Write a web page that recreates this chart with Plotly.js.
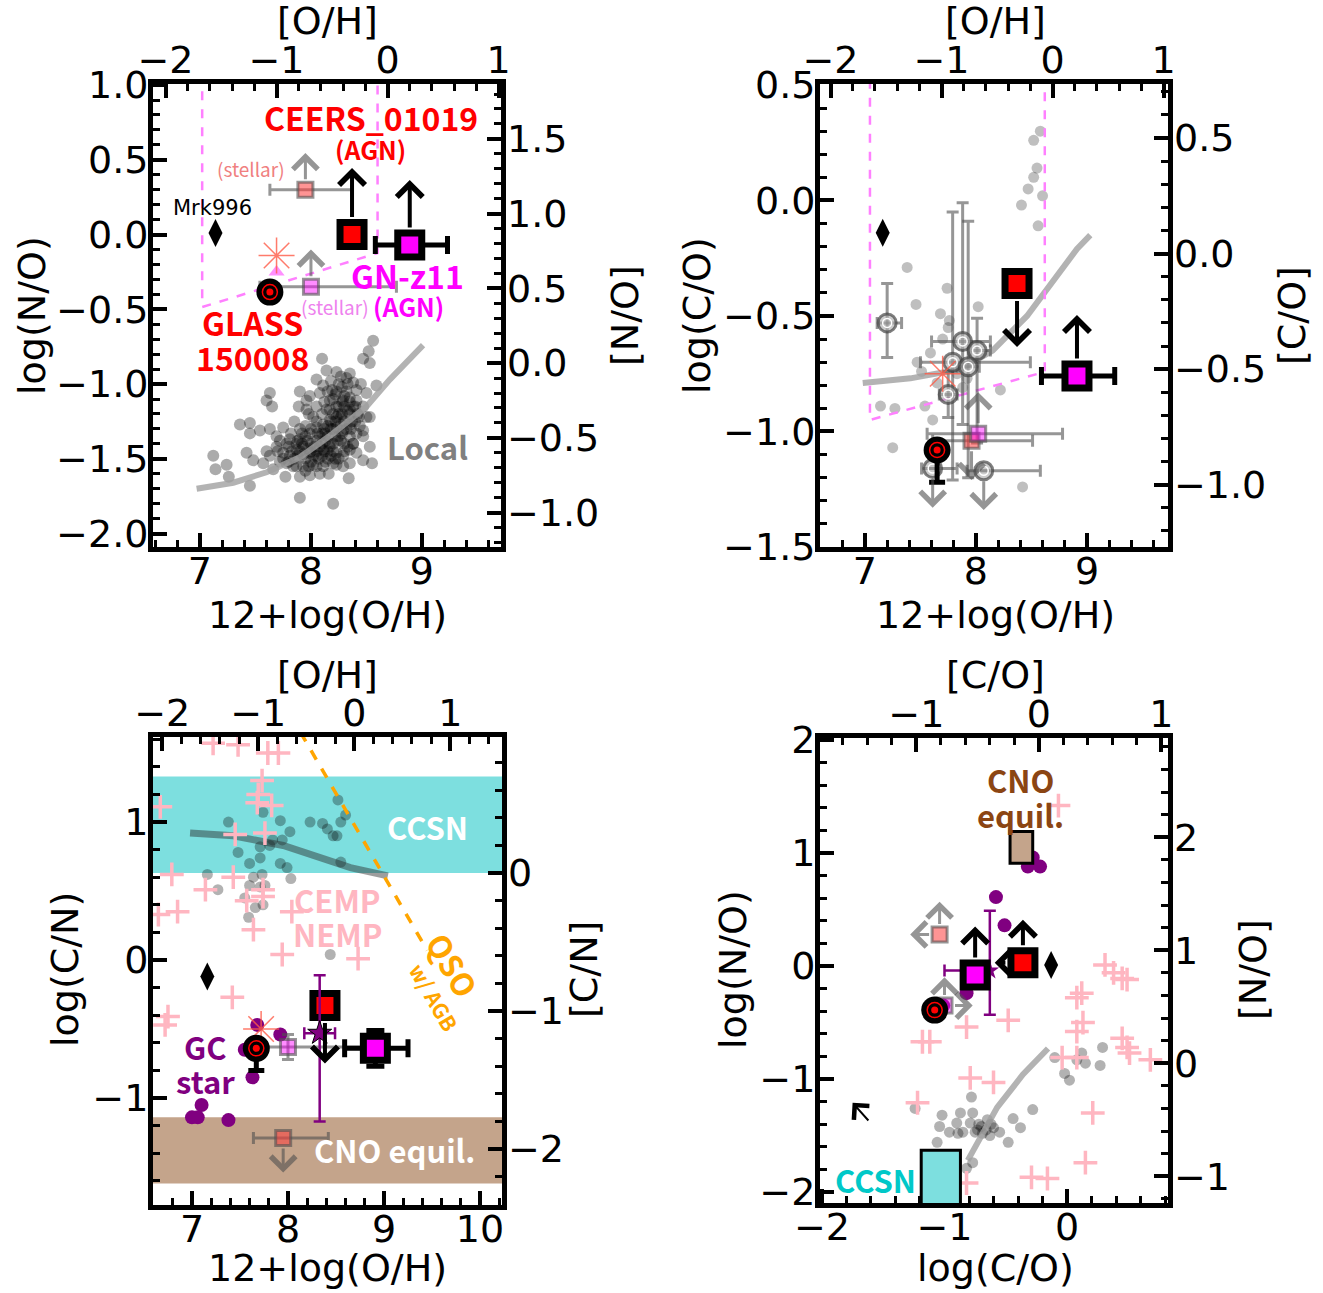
<!DOCTYPE html>
<html><head><meta charset="utf-8">
<script src="https://cdn.plot.ly/plotly-3.0.1.min.js"></script>
<style>html,body{margin:0;padding:0;background:#fff}</style>
</head><body>
<div id="chart" style="width:1323px;height:1293px"></div>
<script>
// ---------------- DATA ----------------
const OH_SUN = 8.69, NO_SUN = -0.86, CO_SUN = -0.23, CN_SUN = 0.63;

// Panel A : log(N/O) vs 12+log(O/H)
const localNO = [[8.56,-0.71],[8.52,-0.78],[8.47,-0.83],[8.53,-0.86],[8.10,-0.83],[8.14,-0.91],[8.23,-0.92],[8.05,-0.97],[8.11,-1.01],[8.32,-0.96],[8.38,-0.99],[8.59,-1.01],[8.50,-1.06],[7.63,-1.06],[7.60,-1.11],[7.65,-1.15],[7.90,-1.05],[7.89,-1.15],[7.96,-1.17],[8.02,-1.22],[8.17,-1.11],[8.23,-1.15],[8.29,-1.11],[8.35,-1.17],[8.41,-1.11],[8.47,-1.15],[8.53,-1.22],[7.36,-1.27],[7.45,-1.26],[7.54,-1.31],[7.63,-1.30],[7.75,-1.29],[7.45,-1.33],[7.69,-1.35],[7.81,-1.37],[7.90,-1.37],[7.99,-1.33],[8.05,-1.29],[8.11,-1.27],[8.17,-1.24],[8.23,-1.29],[8.29,-1.31],[8.35,-1.27],[8.41,-1.33],[8.47,-1.31],[8.53,-1.42],[8.38,-1.40],[7.12,-1.48],[7.24,-1.54],[7.14,-1.57],[7.26,-1.62],[7.42,-1.46],[7.48,-1.51],[7.45,-1.68],[7.57,-1.53],[7.63,-1.48],[7.60,-1.45],[7.69,-1.42],[7.75,-1.46],[7.81,-1.48],[7.87,-1.44],[7.93,-1.42],[7.99,-1.46],[8.05,-1.48],[8.11,-1.44],[8.17,-1.42],[8.23,-1.46],[8.29,-1.48],[8.35,-1.44],[8.41,-1.46],[8.47,-1.51],[8.55,-1.53],[7.78,-1.53],[7.84,-1.55],[7.93,-1.55],[8.02,-1.54],[8.11,-1.55],[8.20,-1.53],[8.29,-1.55],[8.35,-1.53],[7.66,-1.57],[7.77,-1.62],[7.90,-1.62],[7.99,-1.61],[8.08,-1.60],[8.16,-1.60],[8.23,-1.54],[8.34,-1.63],[7.90,-1.76],[8.20,-1.80],[8.47,-1.35],[8.50,-1.22],[8.23,-1.22],[8.14,-1.17],[8.05,-1.15],[7.96,-1.11],[8.35,-1.09],[8.41,-1.04],[8.28,-1.02],[8.19,-1.04],[8.08,-1.06],[7.99,-1.08],[8.25,-1.20],[8.30,-1.25],[8.20,-1.30],[8.15,-1.35],[8.10,-1.40],[8.00,-1.40],[7.90,-1.45],[7.85,-1.50],[7.95,-1.50],[8.05,-1.45],[8.25,-1.35],[8.30,-1.40],[8.35,-1.35],[8.40,-1.25],[8.20,-1.10],[8.25,-1.00],[8.30,-1.15],[7.80,-1.42],[7.75,-1.50],[8.15,-1.50],[8.20,-1.45],[8.28,-1.20],[8.32,-1.05],[8.18,-1.25],[8.12,-1.30],[8.08,-1.35],[8.00,-1.30],[7.92,-1.40],[8.24,-1.38],[8.36,-1.30],
 [7.85,-1.25],[7.90,-1.30],[7.95,-1.35],[8.00,-1.45],[8.05,-1.38],[8.10,-1.33],[8.15,-1.28],[8.20,-1.20],[8.25,-1.15],[8.30,-1.08],[8.35,-1.20],[8.40,-1.15],[8.27,-1.27],[8.22,-1.35],[8.17,-1.40],[8.12,-1.45],[8.07,-1.50],[8.02,-1.48],[7.97,-1.43],[7.88,-1.38],[7.83,-1.45],[7.78,-1.40],[7.72,-1.38],[7.70,-1.45],[7.95,-1.58],[8.05,-1.55],[8.13,-1.52],[8.25,-1.50],[8.30,-1.45],[8.38,-1.40],[8.42,-1.20],[8.33,-1.00],[8.27,-0.95],[8.18,-0.98],[8.15,-1.05],[8.22,-1.07],[8.35,-0.93],[8.45,-1.00],[8.44,-1.28],[8.20,-1.40],[8.10,-1.20],[8.05,-1.25],[7.98,-1.20],[8.35,-1.12],[8.28,-1.33],[8.13,-1.38],[7.93,-1.47],[7.87,-1.55],[8.00,-1.52],[8.18,-1.48],
 [7.82,-1.33],[7.87,-1.40],[7.92,-1.33],[7.97,-1.38],[8.03,-1.42],[8.08,-1.42],[8.13,-1.33],[8.18,-1.30],[8.22,-1.25],[8.27,-1.22],[8.32,-1.30],[8.37,-1.25],[8.33,-1.18],[8.28,-1.12],[8.23,-1.05],[8.17,-1.17],[8.12,-1.12],[8.38,-1.15],[8.43,-1.22],[7.98,-1.55],[8.10,-1.48],[8.15,-1.45],[8.22,-1.50],[7.88,-1.48],[7.80,-1.52],[7.72,-1.52],[8.27,-1.38],[8.33,-1.42],[8.06,-1.33],[7.95,-1.28]];
const trendNO_OH = [6.97,7.30,7.60,7.90,8.20,8.50,8.71,9.01];
const trendNO_NO = [-1.70,-1.66,-1.59,-1.49,-1.33,-1.15,-0.97,-0.74];
const modelNO_OH = [7.02,7.02,8.60,8.60];
const modelNO_NO = [1.2,-0.485,-0.124,1.2];

// Panel B : log(C/O) vs 12+log(O/H)
const localCO = [[8.58,0.30],[8.52,0.26],[8.55,0.14],[8.52,0.10],[8.47,0.05],[8.60,0.02],[8.41,-0.02],[8.56,-0.11],[7.38,-0.29],[7.46,-0.45],[7.74,-0.38],[7.68,-0.49],[8.02,-0.46],[7.76,-0.52],[7.75,-0.55],[7.70,-0.60],[7.59,-0.66],[7.47,-0.70],[7.51,-0.74],[7.65,-0.79],[7.92,-0.77],[7.83,-0.75],[7.14,-0.89],[7.27,-0.90],[7.54,-0.89],[7.61,-0.95],[8.22,-0.82],[7.25,-1.07],[8.42,-1.24],[7.88,-0.81]];
const trendCO_OH = [6.98,7.41,7.86,8.15,8.46,8.91,9.03];
const trendCO_CO = [-0.79,-0.77,-0.73,-0.65,-0.50,-0.21,-0.15];
const modelCO_OH = [7.045,7.045,8.62,8.62];
const modelCO_CO = [0.6,-0.95,-0.742,0.6];
const litCO_OH  = [7.20,7.88,8.01,7.79,7.93,7.75,7.61,8.07];
const litCO_CO  = [-0.53,-0.61,-0.65,-0.70,-0.72,-0.84,-1.16,-1.17];
const litCO_exm = [0.09,0.28,0.06,0.29,0.10,0.08,0.10,0.15];
const litCO_exp = [0.13,0.25,0.12,0.70,0.10,0.08,0.22,0.51];
const litCO_eym = [0.15,0.36,0.40,0.51,0.48,0.10,0,0];
const litCO_eyp = [0.17,0.60,0.14,0.65,0.63,0.10,0,0];
const litCO_lim = [0,0,0,0,0,0,-1.33,-1.34];   // upper-limit arrow tips (0 = none)

// Panel C : log(C/N) vs 12+log(O/H)
const ccsnBandCN = [0.63, 1.33];
const cnoBandCN  = [-1.62, -1.14];
const localCN = [[7.38,1.00],[7.48,0.78],[7.71,0.82],[7.74,1.07],[7.92,1.01],[8.02,0.93],[7.94,0.87],[7.84,0.87],[7.81,0.83],[7.60,0.70],[7.71,0.74],[7.92,0.70],[7.99,0.67],[7.16,0.62],[7.27,0.51],[7.64,0.60],[7.73,0.62],[7.76,0.54],[7.55,0.45],[7.66,0.38],[7.74,0.40],[7.59,0.31],[8.03,0.59],[8.23,1.00],[8.36,0.99],[8.41,0.95],[8.47,0.90],[8.52,1.16],[8.60,1.05],[8.55,1.00],[8.51,0.90],[8.55,0.71],[8.44,0.04],[7.60,0.54],[7.71,0.53]];
const trendCN_OH = [6.98,7.43,7.95,8.30,8.65,9.04];
const trendCN_CN = [0.92,0.90,0.83,0.75,0.67,0.61];
const cempCN = [[7.22,1.57],[7.48,1.56],[7.79,1.50],[7.90,1.50],[7.73,1.30],[7.69,1.20],[7.68,1.14],[7.83,1.12],[6.67,1.11],[7.45,0.91],[7.76,0.92],[6.79,0.62],[7.43,0.60],[7.14,0.51],[7.74,0.51],[7.74,0.46],[7.57,0.43],[6.85,0.35],[6.65,0.33],[8.04,0.35],[7.64,0.22],[7.94,0.04],[8.73,0.01],[7.42,-0.27],[6.75,-0.41],[6.72,-0.47]];
const qsoCN_OH = [8.13, 9.45];
const qsoCN_CN = [1.65, 0.07];
const gcCN_OH = [7.68,7.92,7.55,7.63,7.10,7.00,7.06,7.38];
const gcCN_CN = [-0.47,-0.54,-0.65,-0.85,-1.05,-1.14,-1.14,-1.16];

// Panel D : log(N/O) vs log(C/O)
const cnoBoxCO = [-0.465,-0.28], cnoBoxNO = [0.91,1.19];
const ccsnBoxCO = [-1.19,-0.87], ccsnBoxNO = [-2.3,-1.63];
const localD = [[-1.06,-1.56],[-1.02,-1.32],[-1.04,-1.42],[-0.96,-1.47],[-0.90,-1.39],[-0.87,-1.30],[-0.78,-1.16],[-0.77,-1.30],[-0.79,-1.39],[-0.73,-1.45],[-0.65,-1.36],[-0.60,-1.43],[-0.55,-1.47],[-0.48,-1.56],[-0.44,-1.35],[-0.38,-1.43],[-0.28,-1.27],[-0.89,-1.48],[-0.85,-1.47],[-0.69,-1.48],[-0.63,-1.50],[-0.82,-1.79],[-0.77,-1.74],[-1.24,-1.26],[-0.10,-0.81],[-0.02,-0.95],[0.02,-1.01],[0.12,-0.77],[0.15,-0.86],[0.27,-0.88],[0.29,-0.72],[0.08,-0.83],[-0.70,-1.42],[-0.66,-1.45],[-0.72,-1.40],[-0.62,-1.40],[-0.75,-1.47]];
const trendD_CO = [-0.81,-0.57,-0.36,-0.155];
const trendD_NO = [-1.72,-1.25,-0.96,-0.73];
const cempD = [[-0.82,-0.54],[-0.48,-0.48],[-1.18,-0.67],[-1.12,-0.67],[-0.79,-0.99],[-0.60,-1.03],[-1.22,-1.21],[-0.82,-1.92],[-0.29,-1.87],[-0.16,-1.88],[0.15,-1.74],[0.21,-1.30],[-0.04,-0.81],[0.08,-0.81],[0.68,-0.83],[0.45,-0.64],[0.49,-0.72],[0.51,-0.77],[0.13,-0.50],[0.08,-0.58],[0.12,-0.24],[0.08,-0.28],[0.31,0.01],[0.38,-0.06],[0.45,-0.11],[0.49,-0.12],[-0.07,1.42]];
const gcD_CO = [-0.32,-0.22,-0.28,-0.58,-0.51,-0.82,-1.01];
const gcD_NO = [0.88,0.88,0.96,0.61,0.36,-0.24,-0.35];
const vecD_CO = [-1.61,-1.75], vecD_NO = [-1.38,-1.21];

// Key objects, one value per panel (A,B,C,D)
const ceersX = [8.37, 8.37, 8.385, -0.36];
const ceersY = [0.00, -0.36, -0.33, 0.03];
const ceersLimY = [0.445, -0.634, -0.75, 0.41];
const ceersLimX4 = -0.59;
const gnX = [8.89, 8.91, 8.91, -0.75];
const gnY = [-0.07, -0.76, -0.64, -0.08];
const gnExm = [0.31, 0.32, 0.32, 0], gnExp = [0.34, 0.34, 0.34, 0];
const gnEy = [0, 0, 0.13, 0];
const gnLimY = [0.365, -0.496, null, 0.35];
const glX = [7.63, 7.65, 7.67, -1.08];
const glY = [-0.385, -1.08, -0.64, -0.39];
const glEym = [0, 0.14, 0.16, 0];
const srX = [7.95, 7.96, 7.95, -1.04];
const srY = [0.30, -1.04, -1.29, 0.28];
const srExm = [0.32, 0.35, 0.31, 0], srExp = [0.42, 0.55, 0.47, 0];
const srLimY = [0.545, -1.21, -1.54, 0.57];
const srLimX4 = -1.28;
const smX = [8.00, 8.02, 8.00, -1.00];
const smY = [-0.35, -1.01, -0.63, -0.35];
const smExm = [0.46, 0.46, 0.40, 0], smExp = [0.77, 0.76, 0.78, 0];
const smLimY = [-0.10, -0.83, null, -0.10];
const smLimX4 = -0.77;
const dmX = [7.14, 7.16, 7.16, -0.13];
const dmY = [0.01, -0.14, -0.12, 0.01];
const astX = [7.69, 7.70, 7.72], astY = [-0.14, -0.75, -0.50];
const triA = [7.69, -0.25];
const pstarC = [8.33, -0.53], pstarC_ex = [0.16,0.16], pstarC_ey = [0.64, 0.42];
const pstarD = [-0.63, -0.04], pstarD_ex = [0.37, 0], pstarD_ey = [0.39, 0.53];

// ---------------- LAYOUT HELPERS ----------------
const W = 1323, H = 1293;
const FONT = 'DejaVu Sans', LF = 'Noto Sans CJK JP';
const P = [
  {xa:'x', ya:'y', x2:'x2', y2:'y2', box:[153,501,84,547], xr:[6.577,9.712], yr:[-2.090,1.007], xo:-OH_SUN, yo:-NO_SUN, xd:1, yd:0.5, yf:'.1f'},
  {xa:'x3',ya:'y3',x2:'x4', y2:'y4', box:[820,1168,84,547], xr:[6.595,9.730], yr:[-1.5,0.504], xo:-OH_SUN, yo:-CO_SUN, xd:1, yd:0.5, yf:'.1f'},
  {xa:'x5',ya:'y5',x2:'x6', y2:'y6', box:[153,502,737,1205], xr:[6.594,10.229], yr:[-1.775,1.616], xo:-OH_SUN, yo:-CN_SUN, xd:1, yd:1, yf:''},
  {xa:'x7',ya:'y7',x2:'x8', y2:'y8', box:[820,1168,738,1203], xr:[-2.016,0.824], yr:[-2.097,2.018], xo:-CO_SUN, yo:-NO_SUN, xd:1, yd:1, yf:''}
];
const axName = id => id.replace(/^([xy])(\d*)$/, (m,a,n)=>a+'axis'+n);

const layout = {width:W, height:H, margin:{l:0,r:0,t:0,b:0}, paper_bgcolor:'white', plot_bgcolor:'white',
  showlegend:false, annotations:[], shapes:[]};

function baseAx(dt, fmt){ return {showgrid:false, zeroline:false, ticks:'inside', ticklen:14, tickwidth:4, tickcolor:'black',
  tickfont:{family:FONT, size:38, color:'black'}, tick0:0, dtick:dt, tickformat:fmt||'', fixedrange:true,
  minor:{ticks:'inside', ticklen:7, tickwidth:3, tickcolor:'black', dtick:dt/5, tick0:0, showgrid:false}}; }

const traces = [];
P.forEach(p=>{
  const [l,r,t,b] = p.box;
  layout[axName(p.xa)] = Object.assign(baseAx(p.xd,''), {domain:[l/W, r/W], range:p.xr, anchor:p.ya,
     showline:true, linewidth:5, linecolor:'black', mirror:true, ticklabelstandoff:-14});
  layout[axName(p.ya)] = Object.assign(baseAx(p.yd,p.yf), {domain:[1-b/H, 1-t/H], range:p.yr, anchor:p.xa,
     showline:true, linewidth:5, linecolor:'black', mirror:true, ticklabelstandoff:-8});
  layout[axName(p.x2)] = Object.assign(baseAx(p.xd,''), {overlaying:p.xa, anchor:p.ya, side:'top',
     range:[p.xr[0]+p.xo, p.xr[1]+p.xo], showline:false, ticklabelstandoff:2});
  layout[axName(p.y2)] = Object.assign(baseAx(p.yd,p.yf), {overlaying:p.ya, anchor:p.xa, side:'right',
     range:[p.yr[0]+p.yo, p.yr[1]+p.yo], showline:false, ticklabelstandoff:5});
  traces.push({type:'scatter', mode:'markers', x:[null], y:[null], xaxis:p.x2, yaxis:p.y2, showlegend:false, hoverinfo:'skip'});
});

function sc(i, xs, ys, marker, extra){ return Object.assign({type:'scatter', mode:'markers', x:xs, y:ys, xaxis:P[i].xa, yaxis:P[i].ya,
  marker:marker, showlegend:false, hoverinfo:'skip', cliponaxis:true}, extra||{}); }
function ln(i, xs, ys, line){ return {type:'scatter', mode:'lines', x:xs, y:ys, xaxis:P[i].xa, yaxis:P[i].ya, line:line, showlegend:false, hoverinfo:'skip'}; }
function arrow(i, x0, y0, x1, y1, col, w, sz, so){ layout.annotations.push({xref:P[i].xa, yref:P[i].ya, axref:P[i].xa, ayref:P[i].ya,
  x:x1, y:y1, ax:x0, ay:y0, text:'', showarrow:true, arrowhead:4, arrowsize:sz, arrowwidth:w, arrowcolor:col, startstandoff:so}); }
function txt(i, x, y, text, col, size, bold, fam, ang){ layout.annotations.push({xref:P[i].xa, yref:P[i].ya, x:x, y:y, text:text, showarrow:false,
  xanchor:'center', yanchor:'middle', textangle:ang||0, font:{family:fam||LF, size:size, color:col, weight:bold?700:400}}); }
function ptitle(px, py, text, ang){ layout.annotations.push({xref:'paper', yref:'paper', x:px/W, y:1-py/H, text:text, showarrow:false,
  xanchor:'center', yanchor:'middle', textangle:ang||0, font:{family:FONT, size:38, color:'black'}}); }

const pts = a => [a.map(d=>d[0]), a.map(d=>d[1])];
const PLUS = {symbol:'cross-thin', size:17, line:{color:'#ffb6c1', width:3.5}, color:'#ffb6c1'};
const MAG = '#ff00ff', RED = '#ff0000', PURP = '#800080';
const SGREY = 'rgba(80,80,80,0.6)';
const AST = {symbol:'asterisk-open', size:30, color:'rgba(255,90,70,0.8)', line:{color:'rgba(255,90,70,0.8)', width:1.5}};

function errArr(m, p, col, th, w){ return {type:'data', symmetric:false, array:[p], arrayminus:[m], color:col, thickness:th, width:w, visible:true}; }

function keyObjects(i){
  traces.push(sc(i,[srX[i]],[srY[i]],{symbol:'square', size:15, color:'rgba(255,60,60,0.55)', line:{color:SGREY, width:3}},
    srExm[i]||srExp[i] ? {error_x:errArr(srExm[i],srExp[i],SGREY,3,6)} : {}));
  traces.push(sc(i,[smX[i]],[smY[i]],{symbol:'square', size:15, color:'rgba(255,0,255,0.45)', line:{color:SGREY, width:3}},
    Object.assign({}, smExm[i]||smExp[i] ? {error_x:errArr(smExm[i],smExp[i],SGREY,3,6)} : {}, i===2?{error_y:errArr(0.09,0.09,SGREY,3,6)}:{})));
  if (srLimY[i]!==null) arrow(i, srX[i], srY[i], srX[i], srLimY[i], SGREY, 3, 1.6, 9);
  if (smLimY[i]!==null) arrow(i, smX[i], smY[i], smX[i], smLimY[i], SGREY, 3, 1.6, 9);
  traces.push(sc(i,[dmX[i]],[dmY[i]],{symbol:'diamond-tall', size:20, color:'black'}));
  traces.push(sc(i,[glX[i]],[glY[i]],{symbol:'circle', size:27, color:'black'},
    glEym[i] ? {error_y:errArr(glEym[i],0,'black',5,8)} : {}));
  traces.push(sc(i,[glX[i]],[glY[i]],{symbol:'circle-open', size:15, color:RED, line:{color:RED, width:1.5}}));
  traces.push(sc(i,[glX[i]],[glY[i]],{symbol:'circle', size:7, color:RED}));
  const gx = {};
  if (gnExm[i]||gnExp[i]) gx.error_x = errArr(gnExm[i],gnExp[i],'black',5,9);
  if (gnEy[i]) gx.error_y = errArr(gnEy[i],gnEy[i],'black',5,9);
  traces.push(sc(i,[gnX[i]],[gnY[i]],{symbol:'square', size:24, color:MAG, line:{color:'black', width:7}}, gx));
  if (gnLimY[i]!==null) arrow(i, gnX[i], gnY[i], gnX[i], gnLimY[i], 'black', 4, 1.25, 16);
  traces.push(sc(i,[ceersX[i]],[ceersY[i]],{symbol:'square', size:24, color:RED, line:{color:'black', width:7}}));
  arrow(i, ceersX[i], ceersY[i], ceersX[i], ceersLimY[i], 'black', 4, 1.25, 16);
}

// ---------- Panel A ----------
{ const [x,y] = pts(localNO); traces.push(sc(0,x,y,{size:12, color:'rgba(0,0,0,0.33)'})); }
traces.push(ln(0, trendNO_OH, trendNO_NO, {color:'rgba(160,160,160,0.8)', width:6}));
traces.push(ln(0, modelNO_OH, modelNO_NO, {color:'#ff80ff', width:2.5, dash:'dash'}));
traces.push(sc(0,[triA[0]],[triA[1]],{symbol:'triangle-up', size:14, color:'#ff90ff'}));
traces.push(sc(0,[astX[0]],[astY[0]],AST));
keyObjects(0);
txt(0, 8.54, 0.786, 'CEERS_01019', RED, 32, true);
txt(0, 8.54, 0.57, '(AGN)', RED, 25, true);
txt(0, 7.46, 0.44, '(stellar)', '#f08080', 19, false);
txt(0, 7.11, 0.18, 'Mrk996', 'black', 21, false, FONT);
txt(0, 8.87, -0.27, 'GN-z11', MAG, 32, true);
txt(0, 8.22, -0.48, '(stellar)', '#ee82ee', 19, false);
txt(0, 8.88, -0.48, '(AGN)', MAG, 25, true);
txt(0, 7.47, -0.585, 'GLASS', RED, 32, true);
txt(0, 7.47, -0.82, '150008', RED, 32, true);
txt(0, 9.05, -1.42, 'Local', 'grey', 31, true);

// ---------- Panel B ----------
{ const [x,y] = pts(localCO); traces.push(sc(1,x,y,{size:11, color:'rgba(0,0,0,0.25)'})); }
traces.push(ln(1, trendCO_OH, trendCO_CO, {color:'rgba(160,160,160,0.8)', width:6}));
traces.push(ln(1, modelCO_OH, modelCO_CO, {color:'#ff80ff', width:2.5, dash:'dash'}));
traces.push(sc(1, litCO_OH, litCO_CO, {symbol:'circle', size:18, color:'rgba(170,170,170,0.6)', line:{color:'rgba(60,60,60,0.65)', width:3}},
  {error_x:{type:'data', symmetric:false, array:litCO_exp, arrayminus:litCO_exm, color:SGREY, thickness:3, width:6},
   error_y:{type:'data', symmetric:false, array:litCO_eyp, arrayminus:litCO_eym, color:SGREY, thickness:3, width:6}}));
traces.push(sc(1, litCO_OH, litCO_CO, {symbol:'circle-open', size:9, color:'white', line:{color:'white', width:1.5}}));
litCO_lim.forEach((t,k)=>{ if (t) arrow(1, litCO_OH[k], litCO_CO[k], litCO_OH[k], t, SGREY, 3, 1.6, 9); });
traces.push(sc(1,[astX[1]],[astY[1]],AST));
keyObjects(1);

// ---------- Panel C ----------
layout.shapes.push({type:'rect', xref:'x5 domain', yref:'y5', x0:0, x1:1, y0:ccsnBandCN[0], y1:ccsnBandCN[1], fillcolor:'#7ddfdf', line:{width:0}, layer:'below'});
layout.shapes.push({type:'rect', xref:'x5 domain', yref:'y5', x0:0, x1:1, y0:cnoBandCN[0], y1:cnoBandCN[1], fillcolor:'#c4a48b', line:{width:0}, layer:'below'});
{ const [x,y] = pts(localCN); traces.push(sc(2,x,y,{size:11, color:'rgba(0,0,0,0.3)'})); }
traces.push(ln(2, trendCN_OH, trendCN_CN, {color:'rgba(40,40,40,0.45)', width:7}));
{ const [x,y] = pts(cempCN); traces.push(sc(2,x,y,PLUS)); }
traces.push(ln(2, qsoCN_OH, qsoCN_CN, {color:'orange', width:3.5, dash:'dash'}));
traces.push(sc(2, gcCN_OH, gcCN_CN, {size:14, color:PURP}));
traces.push(sc(2,[astX[2]],[astY[2]],AST));
keyObjects(2);
traces.push(sc(2,[pstarC[0]],[pstarC[1]],{symbol:'star', size:18, color:PURP, line:{color:'black', width:1}},
  {error_x:errArr(pstarC_ex[0],pstarC_ex[1],PURP,2.5,6), error_y:errArr(pstarC_ey[0],pstarC_ey[1],PURP,2.5,6)}));
txt(2, 9.45, 0.97, 'CCSN', 'white', 31, true);
txt(2, 9.11, -1.37, 'CNO equil.', 'white', 31, true);
txt(2, 8.52, 0.435, 'CEMP', '#ffb6c1', 31, true);
txt(2, 8.52, 0.19, 'NEMP', '#ffb6c1', 31, true);
txt(2, 7.14, -0.63, 'GC', PURP, 31, true);
txt(2, 7.14, -0.87, 'star', PURP, 31, true);
txt(2, 9.72, -0.03, 'QSO', 'orange', 31, true, LF, 60);
txt(2, 9.52, -0.27, 'w/ AGB', 'orange', 21, true, LF, 60);

// ---------- Panel D ----------
{ const [x,y] = pts(localD); traces.push(sc(3,x,y,{size:11, color:'rgba(0,0,0,0.3)'})); }
traces.push(ln(3, trendD_CO, trendD_NO, {color:'rgba(160,160,160,0.8)', width:6}));
{ const [x,y] = pts(cempD); traces.push(sc(3,x,y,PLUS)); }
traces.push(sc(3, gcD_CO, gcD_NO, {size:14, color:PURP}));
layout.shapes.push({type:'rect', xref:'x7', yref:'y7', x0:cnoBoxCO[0], x1:cnoBoxCO[1], y0:cnoBoxNO[0], y1:cnoBoxNO[1], fillcolor:'#c4a48b', line:{color:'black', width:3}});
layout.shapes.push({type:'rect', xref:'x7', yref:'y7', x0:ccsnBoxCO[0], x1:ccsnBoxCO[1], y0:ccsnBoxNO[0], y1:ccsnBoxNO[1], fillcolor:'#7ddfdf', line:{color:'black', width:3}});
traces.push(sc(3,[pstarD[0]],[pstarD[1]],{symbol:'star', size:14, color:PURP},
  {error_x:errArr(pstarD_ex[0],pstarD_ex[1],PURP,2.5,6), error_y:errArr(pstarD_ey[0],pstarD_ey[1],PURP,2.5,6)}));
keyObjects(3);
arrow(3, ceersX[3], ceersY[3], ceersLimX4, ceersY[3], 'black', 4, 1.25, 16);
arrow(3, srX[3], srY[3], srLimX4, srY[3], SGREY, 3, 1.6, 9);
arrow(3, smX[3], smY[3], smLimX4, smY[3], SGREY, 3, 1.6, 9);
arrow(3, vecD_CO[0], vecD_NO[0], vecD_CO[1], vecD_NO[1], 'black', 2, 2, 0);
txt(3, -0.38, 1.65, 'CNO', '#8b4513', 31, true);
txt(3, -0.38, 1.34, 'equil.', '#8b4513', 31, true);
txt(3, -1.56, -1.89, 'CCSN', '#00c8c8', 31, true);

// ---------- Axis titles ----------
ptitle(327,615,'12+log(O/H)'); ptitle(32,316,'log(N/O)',-90); ptitle(327,21,'[O/H]'); ptitle(625,316,'[N/O]',-90);
ptitle(995,615,'12+log(O/H)'); ptitle(697,316,'log(C/O)',-90); ptitle(995,21,'[O/H]'); ptitle(1292,316,'[C/O]',-90);
ptitle(327,1268,'12+log(O/H)'); ptitle(65,970,'log(C/N)',-90); ptitle(327,675,'[O/H]'); ptitle(584,970,'[C/N]',-90);
ptitle(995,1268,'log(C/O)'); ptitle(733,970,'log(N/O)',-90); ptitle(995,675,'[C/O]'); ptitle(1253,970,'[N/O]',-90);

Plotly.newPlot('chart', traces, layout, {staticPlot:true});
</script></body></html>
